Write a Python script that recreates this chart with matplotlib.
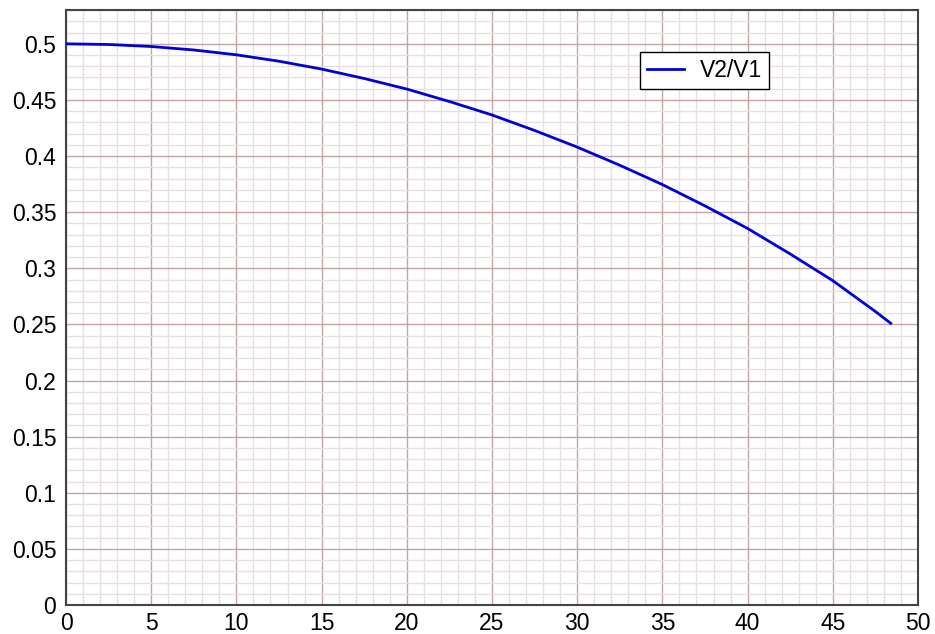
import matplotlib
matplotlib.use('Agg')
from matplotlib import pyplot as plt
from matplotlib.ticker import MultipleLocator, FuncFormatter

# Values.
x_vals = [0, 2.5, 5, 7.5, 10, 12.5, 15, 17.5, 20, 22.5, 25, 27.5,
          30, 32.5, 35, 37.5, 40, 42.5, 45, 47.5, 48.4]
ratio = [0.5, 0.4994, 0.4976, 0.4945, 0.4902, 0.4845, 0.4775, 0.4691,
         0.4597, 0.4486, 0.4366, 0.4228, 0.408, 0.3918, 0.3746, 0.3556,
         0.3355, 0.3128, 0.289, 0.2615, 0.251]
series_name = 'V2/V1'

plt.rcParams['font.family'] = ['Liberation Sans', 'DejaVu Sans']

fig = plt.figure(figsize=(9.35, 6.34), dpi=100)
ax = fig.add_axes([0.0706, 0.0457, 0.9112, 0.9383])

ax.plot(x_vals, ratio, color='#0000d8', linewidth=2, label=series_name, zorder=3)

ax.set_xlim(0, 50)
ax.set_ylim(0, 0.53)
ax.xaxis.set_major_locator(MultipleLocator(5))
ax.xaxis.set_minor_locator(MultipleLocator(1))
ax.yaxis.set_major_locator(MultipleLocator(0.05))
ax.yaxis.set_minor_locator(MultipleLocator(0.01))
ax.yaxis.set_major_formatter(FuncFormatter(lambda v, p: '%g' % round(v, 2)))

ax.grid(which='minor', color='#e8dfe3', linewidth=1)
ax.grid(which='major', color='#c4a4a4', linewidth=1)
ax.set_axisbelow(True)

ax.tick_params(which='both', length=0, labelsize=16.5)
ax.tick_params(axis='y', pad=7)
ax.tick_params(axis='x', pad=5)
for s in ax.spines.values():
    s.set_color('#444444')
    s.set_linewidth(1.5)

leg = ax.legend(loc='upper left', bbox_to_anchor=(0.6737, 0.929), fontsize=16.5,
                fancybox=False, framealpha=1, edgecolor='black',
                handlelength=1.6, borderpad=0.3, handletextpad=0.7,
                borderaxespad=0)
leg.get_frame().set_linewidth(1)

fig.savefig('out.png', dpi=100)
